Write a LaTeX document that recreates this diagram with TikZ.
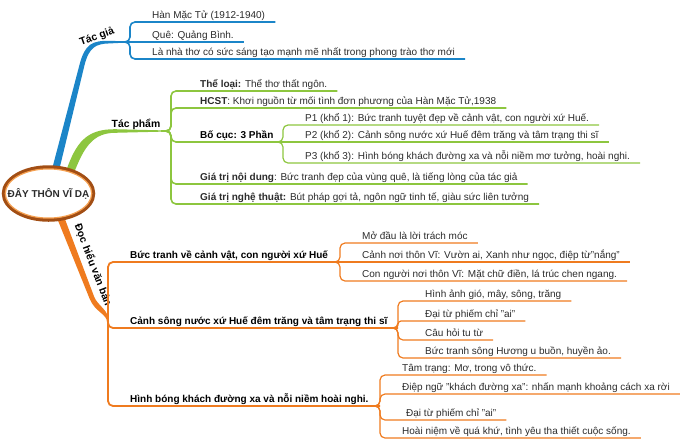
\documentclass[tikz,border=0pt]{standalone}
\usepackage{fontspec}
\setmainfont{Liberation Sans}
\usetikzlibrary{shapes.geometric}
\definecolor{cblue}{HTML}{1B85C8}
\definecolor{cgreen}{HTML}{8DC63F}
\definecolor{corange}{HTML}{EF7B1F}
\definecolor{cbrown}{HTML}{A24E14}
\definecolor{clight}{HTML}{F5A050}
\definecolor{ctext}{HTML}{2B2B2B}
\newcommand\fsz{\fontsize{10}{12}\selectfont}
\begin{document}
\begin{tikzpicture}[x=1pt,y=-1pt,
  leaf/.style={anchor=south west, inner xsep=0pt, inner ysep=2.5pt, text depth=1pt, font=\fsz, text=ctext},
  bleaf/.style={leaf, font=\fsz\bfseries, text=black},
  lbl/.style={font=\fontsize{10.4}{12}\selectfont\bfseries, text=black, inner sep=0pt},
  bmain/.style={draw=cblue, line width=1.6pt, rounded corners=5pt},
  gmain/.style={draw=cgreen, line width=1.6pt, rounded corners=5pt},
  omain/.style={draw=corange, line width=1.8pt, rounded corners=5pt},
  osub/.style={draw=corange, line width=1.2pt, rounded corners=5pt},
  gsub/.style={draw=cgreen, line width=1.2pt, rounded corners=5pt},
]
\useasboundingbox (0,0) rectangle (700,445);

% ---------- thick branches ----------
\fill[cblue] (52.6,167) -- (79.6,64.4) .. controls (85,44) and (92,40.5) .. (110,40.8) -- (124,41.3) -- (124,42.7) -- (110,43.4) .. controls (96,43.6) and (89,47) .. (84.4,65.6) -- (59.4,169) -- cycle;
\fill[cgreen] (66.2,170.6) .. controls (76,143) and (86,129) .. (115,129.2) -- (164,130.4) -- (164,131.6) -- (115,132.8) .. controls (93,133) and (84,147) .. (73.8,173.4) -- cycle;
\fill[corange] (56.7,217.3) -- (63.3,214.7) -- (94.3,297.1) .. controls (98,306) and (109,310) .. (109,322) -- (107,322) .. controls (107,314) and (95,312) .. (89.7,298.9) -- cycle;

% ---------- root ----------
\node[ellipse, draw=cbrown, line width=3.5pt, fill=white, minimum width=90pt, minimum height=53pt, inner sep=0pt] (root) at (48.5,193.5) {};
\draw[clight, line width=1.2pt] (root.center) ellipse [x radius=43.2, y radius=24.6];
\node[font=\fontsize{10}{12}\selectfont\bfseries, text=ctext, inner sep=0pt] (rootlbl) at (root.center) {ĐÂY THÔN VĨ DẠ};

% ---------- branch labels ----------
\node[lbl, rotate=20] (tg) at (97,37) {Tác giả};
\node[lbl, anchor=base] (tp) at (136,127.5) {Tác phẩm};
\node[lbl, rotate=-69] (dh) at (93,265) {Đọc hiểu văn bản};

% ---------- Tác giả ----------
\node[leaf] (a1) at (152,22) {Hàn Mặc Tử (1912-1940)};
\node[leaf] (a2) at (152,42) {Quê: Quảng Bình.};
\node[leaf] (a3) at (152,59) {Là nhà thơ có sức sáng tạo mạnh mẽ nhất trong phong trào thơ mới};
\coordinate (tgE) at (120,42);
\coordinate (tgH) at (130,42);
\draw[bmain] (tgE) -- (tgH) |- ([xshift=10pt]a1.south east);
\draw[bmain] (tgE) -- ([xshift=10pt]a2.south east);
\draw[bmain] (tgE) -- (tgH) |- ([xshift=10pt]a3.south east);

% ---------- Tác phẩm ----------
\node[leaf] (b1) at (200,91) {{\bfseries Thể loại:} Thể thơ thất ngôn.};
\node[leaf] (b2) at (200,108) {{\bfseries HCST}: Khơi nguồn từ mối tình đơn phương của Hàn Mặc Tử,1938};
\node[bleaf] (b3) at (200,142) {Bố cục: 3 Phần};
\node[leaf] (b4) at (200,184) {{\bfseries Giá trị nội dung}: Bức tranh đẹp của vùng quê, là tiếng lòng của tác giả};
\node[leaf] (b5) at (200,204) {{\bfseries Giá trị nghệ thuật:} Bút pháp gợi tả, ngôn ngữ tinh tế, giàu sức liên tưởng};
\coordinate (tpE) at (161,131);
\coordinate (tpH) at (171,131);
\coordinate (bcE) at (275,142);
\coordinate (bcH) at (283,142);
\draw[gmain] (tpE) -- (tpH) |- ([xshift=10pt]b1.south east);
\draw[gmain] (tpE) -- (tpH) |- ([xshift=10pt]b2.south east);
\draw[gmain] (tpE) -- (tpH) |- (bcH);
\draw[gmain] (tpE) -- (tpH) |- ([xshift=10pt]b4.south east);
\draw[gmain] (tpE) -- (tpH) |- ([xshift=10pt]b5.south east);

\node[leaf] (p1) at (305,125) {P1 (khổ 1): Bức tranh tuyệt đẹp về cảnh vật, con người xứ Huế.};
\node[leaf] (p2) at (305,142) {P2 (khổ 2): Cảnh sông nước xứ Huế đêm trăng và tâm trạng thi sĩ};
\node[leaf] (p3) at (305,163) {P3 (khổ 3): Hình bóng khách đường xa và nỗi niềm mơ tưởng, hoài nghi.};
\draw[gsub] (bcE) -- (bcH) |- ([xshift=10pt]p1.south east);
\draw[gsub] (bcE) -- ([xshift=10pt]p2.south east);
\draw[gsub] (bcE) -- (bcH) |- ([xshift=10pt]p3.south east);

% ---------- Đọc hiểu văn bản ----------
\coordinate (dhH) at (108,322);
\node[bleaf] (c1) at (130,262) {Bức tranh về cảnh vật, con người xứ Huế};
\node[bleaf] (c2) at (130,328) {Cảnh sông nước xứ Huế đêm trăng và tâm trạng thi sĩ};
\node[bleaf] (c3) at (130,406) {Hình bóng khách đường xa và nỗi niềm hoài nghi.};
\coordinate (c1E) at (332,262);
\coordinate (c1H) at (340,262);
\coordinate (c2E) at (390,328);
\coordinate (c2H) at (398,328);
\coordinate (c3E) at (372,406);
\coordinate (c3H) at (380,406);
\draw[omain] (dhH) |- (c1H);
\draw[omain] (dhH) |- (c2H);
\draw[omain] (dhH) |- (c3H);

\node[leaf] (d1) at (362,243) {Mở đầu là lời trách móc};
\node[leaf] (d2) at (362,262) {Cảnh nơi thôn Vĩ: Vườn ai, Xanh như ngọc, điệp từ"nắng"};
\node[leaf] (d3) at (362,281) {Con người nơi thôn Vĩ: Mặt chữ điền, lá trúc chen ngang.};
\draw[osub] (c1E) -- (c1H) |- ([xshift=10pt]d1.south east);
\draw[osub] (c1E) -- ([xshift=10pt]d2.south east);
\draw[osub] (c1E) -- (c1H) |- ([xshift=10pt]d3.south east);

\node[leaf] (e1) at (425,301) {Hình ảnh gió, mây, sông, trăng};
\node[leaf] (e2) at (425,321) {Đại từ phiếm chỉ "ai"};
\node[leaf] (e3) at (425,340) {Câu hỏi tu từ};
\node[leaf] (e4) at (425,358) {Bức tranh sông Hương u buồn, huyền ảo.};
\draw[osub] (c2E) -- (c2H) |- ([xshift=10pt]e1.south east);
\draw[osub, rounded corners=3pt] (c2E) -- (c2H) |- ([xshift=10pt]e2.south east);
\draw[osub] (c2E) -- (c2H) |- ([xshift=10pt]e3.south east);
\draw[osub] (c2E) -- (c2H) |- ([xshift=10pt]e4.south east);

\node[leaf] (f1) at (402,375) {Tâm trạng: Mơ, trong vô thức.};
\node[leaf] (f2) at (402,394) {Điệp ngữ "khách đường xa": nhấn mạnh khoảng cách xa rời};
\node[leaf] (f3) at (406,420) {Đại từ phiếm chỉ "ai"};
\node[leaf] (f4) at (402,438) {Hoài niệm về quá khứ, tình yêu tha thiết cuộc sống.};
\draw[osub] (c3E) -- (c3H) |- ([xshift=10pt]f1.south east);
\draw[osub] (c3E) -- (c3H) |- ([xshift=10pt]f2.south east);
\draw[osub] (c3E) -- (c3H) |- ([xshift=10pt]f3.south east);
\draw[osub] (c3E) -- (c3H) |- ([xshift=10pt]f4.south east);
\end{tikzpicture}
\end{document}
